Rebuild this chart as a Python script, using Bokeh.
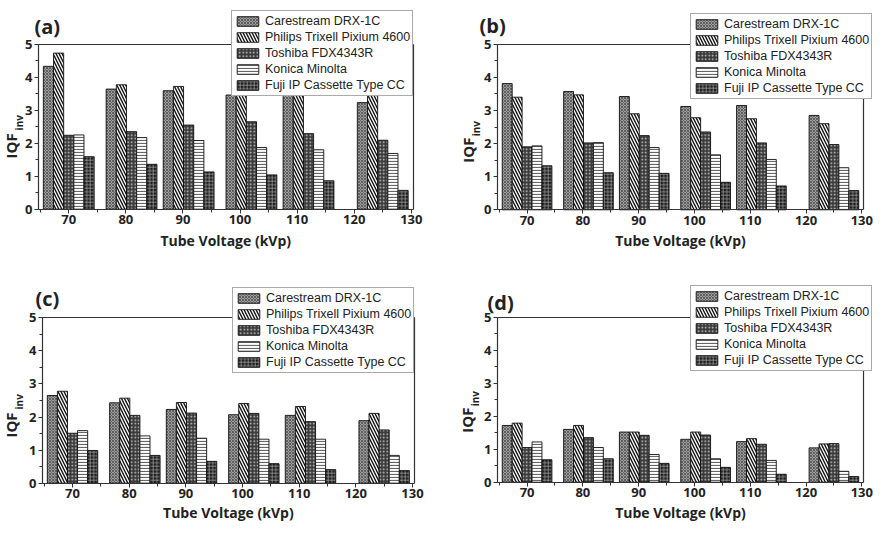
import math
from bokeh.plotting import figure
from bokeh.layouts import column, row
from bokeh.models import (Range1d, LinearAxis, SingleIntervalTicker, FixedTicker, Label,
                          Legend, LegendItem)
from bokeh.embed import file_html
from bokeh.resources import INLINE

# ---------------- data ----------------
kvp = [70, 81, 91, 102, 112, 125]          # tube voltage of each bar group (kVp)
detectors = ["Carestream DRX-1C", "Philips Trixell Pixium 4600", "Toshiba FDX4343R",
             "Konica Minolta", "Fuji IP Cassette Type CC"]
panel_tags = ["(a)", "(b)", "(c)", "(d)"]
x_title = "Tube Voltage (kVp)"

a_carestream = [4.33, 3.64, 3.59, 3.46, 3.45, 3.23]
a_philips    = [4.73, 3.77, 3.72, 3.69, 3.57, 3.64]
a_toshiba    = [2.24, 2.35, 2.55, 2.65, 2.29, 2.09]
a_konica     = [2.25, 2.17, 2.08, 1.87, 1.80, 1.69]
a_fuji       = [1.59, 1.36, 1.13, 1.04, 0.86, 0.57]

b_carestream = [3.81, 3.57, 3.42, 3.12, 3.15, 2.85]
b_philips    = [3.40, 3.47, 2.90, 2.78, 2.75, 2.60]
b_toshiba    = [1.90, 2.02, 2.24, 2.35, 2.02, 1.97]
b_konica     = [1.93, 2.03, 1.88, 1.66, 1.52, 1.27]
b_fuji       = [1.33, 1.12, 1.10, 0.83, 0.72, 0.58]

c_carestream = [2.65, 2.43, 2.23, 2.07, 2.05, 1.89]
c_philips    = [2.78, 2.57, 2.44, 2.41, 2.32, 2.11]
c_toshiba    = [1.51, 2.05, 2.12, 2.11, 1.86, 1.61]
c_konica     = [1.59, 1.43, 1.36, 1.33, 1.33, 0.84]
c_fuji       = [0.99, 0.84, 0.66, 0.59, 0.41, 0.38]

d_carestream = [1.72, 1.60, 1.52, 1.30, 1.23, 1.04]
d_philips    = [1.79, 1.72, 1.52, 1.52, 1.32, 1.16]
d_toshiba    = [1.05, 1.35, 1.42, 1.43, 1.15, 1.17]
d_konica     = [1.22, 1.05, 0.84, 0.71, 0.66, 0.33]
d_fuji       = [0.68, 0.71, 0.57, 0.45, 0.24, 0.17]

panels = [
    [a_carestream, a_philips, a_toshiba, a_konica, a_fuji],
    [b_carestream, b_philips, b_toshiba, b_konica, b_fuji],
    [c_carestream, c_philips, c_toshiba, c_konica, c_fuji],
    [d_carestream, d_philips, d_toshiba, d_konica, d_fuji],
]

# ---------------- styles ----------------
BAR_W = 1.78
styles = [
    dict(fill_color="#9c9c9c", hatch_pattern="x", hatch_color="#505050", hatch_scale=3, hatch_weight=0.8),
    dict(fill_color="white", hatch_pattern="\\", hatch_color="#111111", hatch_scale=6, hatch_weight=1.4),
    dict(fill_color="#3a3a3a", hatch_pattern=".", hatch_color="#cfcfcf", hatch_scale=3.5, hatch_weight=1.0),
    dict(fill_color="white", hatch_pattern="-", hatch_color="#666666", hatch_scale=3, hatch_weight=1.2),
    dict(fill_color="#1c1c1c", hatch_pattern="+", hatch_color="#9a9a9a", hatch_scale=3.5, hatch_weight=0.8),
]

AX = "#333333"
TXT = "#222222"
FONT = "Open Sans"
XA, XB = 64.7, 130.3      # axis extent in kVp
YMAX = 5
LEG_W, LEG_H = 184, 92    # legend placement size in px (box is anchored by its bottom-left)

# page geometry of each panel (pixels): figure box, axis positions, legend corner,
# and text placements (tag, y-title, x-title)
geom = [
    dict(fx0=8, fx1=445, fy0=8, fy1=258, ax=46, rx=420.5, y0=216.7, y5=51.7, lt=12, lr=423,
         tag_dx=-4, tag_y=5.55, iqf_dx=-28, iqf_y=1.92, inv_dx=-20, inv_y=2.62, xt_y=-0.95),
    dict(fx0=445, fx1=883, fy0=8, fy1=258, ax=505, rx=871, y0=217.3, y5=51.7, lt=15, lr=882,
         tag_dx=-18, tag_y=5.55, iqf_dx=-30, iqf_y=1.80, inv_dx=-22, inv_y=2.45, xt_y=-0.93),
    dict(fx0=8, fx1=445, fy0=258, fy1=530, ax=50, rx=421.7, y0=490.7, y5=325.3, lt=289, lr=424,
         tag_dx=-7, tag_y=5.57, iqf_dx=-32, iqf_y=1.76, inv_dx=-24, inv_y=2.46, xt_y=-0.89),
    dict(fx0=445, fx1=883, fy0=258, fy1=530, ax=505, rx=871, y0=489.7, y5=324.7, lt=287, lr=882,
         tag_dx=-10, tag_y=5.46, iqf_dx=-31, iqf_y=1.88, inv_dx=-23, inv_y=2.53, xt_y=-0.92),
]


def bare_axis(loc, bounds):
    return LinearAxis(fixed_location=loc, bounds=bounds, ticker=FixedTicker(ticks=[]),
                      axis_line_color=AX, axis_line_width=1.2,
                      major_tick_line_color=None, minor_tick_line_color=None,
                      major_label_text_font_size="0px")


def style_axis(a):
    a.major_label_text_font = FONT
    a.major_label_text_font_style = "bold"
    a.major_label_text_font_size = "13px"
    a.major_label_text_color = TXT
    a.major_label_standoff = 2
    a.major_tick_in = 0
    a.major_tick_out = 4
    a.minor_tick_in = 0
    a.minor_tick_out = 3
    a.axis_line_color = AX
    a.major_tick_line_color = AX
    a.minor_tick_line_color = AX
    a.axis_line_width = 1.2


def make_panel(idx):
    g = geom[idx]
    sx = (g["rx"] - g["ax"]) / (XB - XA)
    sy = (g["y0"] - g["y5"]) / YMAX
    fl, fr, ft, fb = g["fx0"], g["fx1"], g["fy0"], g["fy1"]
    x_start = XA - (g["ax"] - fl) / sx
    x_end = XA + (fr - g["ax"]) / sx
    y_start = -(fb - g["y0"]) / sy
    y_end = (g["y0"] - ft) / sy

    p = figure(frame_width=int(fr - fl), frame_height=int(fb - ft),
               min_border_left=0, min_border_bottom=0, min_border_top=0, min_border_right=0,
               x_range=Range1d(x_start, x_end), y_range=Range1d(y_start, y_end),
               output_backend="svg", toolbar_location=None,
               background_fill_color="white", border_fill_color="white")
    p.outline_line_color = None
    p.xgrid.visible = False
    p.ygrid.visible = False

    xa = p.xaxis[0]
    xa.fixed_location = 0
    xa.bounds = (XA, XB)
    xa.ticker = SingleIntervalTicker(interval=10, num_minor_ticks=2)
    style_axis(xa)

    ya = p.yaxis[0]
    ya.fixed_location = XA
    ya.bounds = (0, YMAX)
    ya.ticker = SingleIntervalTicker(interval=1, num_minor_ticks=2)
    style_axis(ya)

    p.add_layout(bare_axis(XB, (0, YMAX)), "right")
    p.add_layout(bare_axis(YMAX, (XA, XB)), "above")

    items = []
    for i, (vals, st) in enumerate(zip(panels[idx], styles)):
        off = (i - 2) * BAR_W
        xs = [k + off for k in kvp]
        r = p.vbar(x=xs, top=vals, bottom=0, width=BAR_W,
                   line_color="#111111", line_width=0.9, **st)
        items.append(LegendItem(label=detectors[i], renderers=[r]))

    leg_x = g["lr"] - LEG_W - fl
    leg_y = fb - g["lt"] - LEG_H
    leg = Legend(items=items, location=(leg_x, leg_y), margin=0, padding=2, spacing=0,
                 glyph_width=27, glyph_height=12, label_height=16, label_standoff=4,
                 label_text_font="Liberation Sans", label_text_font_size="12.5px",
                 label_text_color=TXT, border_line_color="#555555", border_line_width=1,
                 background_fill_color="white", background_fill_alpha=1.0)
    p.add_layout(leg)

    # panel tag
    p.add_layout(Label(x=XA, y=g["tag_y"], x_offset=g["tag_dx"], text=panel_tags[idx],
                       text_font=FONT, text_font_style="bold", text_font_size="20px",
                       text_color=TXT, text_baseline="middle", text_align="left"))
    # y title: IQF with subscript inv
    p.add_layout(Label(x=XA, y=g["iqf_y"], x_offset=g["iqf_dx"], text="IQF", angle=math.pi / 2,
                       text_font=FONT, text_font_style="bold", text_font_size="15px",
                       text_color=TXT, text_baseline="middle", text_align="center"))
    p.add_layout(Label(x=XA, y=g["inv_y"], x_offset=g["inv_dx"], text="inv", angle=math.pi / 2,
                       text_font=FONT, text_font_style="bold", text_font_size="10px",
                       text_color=TXT, text_baseline="middle", text_align="center"))
    # x title
    p.add_layout(Label(x=(XA + XB) / 2, y=g["xt_y"], text=x_title,
                       text_font=FONT, text_font_style="bold", text_font_size="14px",
                       text_color=TXT, text_baseline="middle", text_align="center"))
    return p


figs = [make_panel(i) for i in range(4)]
layout_obj = column(row(figs[0], figs[1]), row(figs[2], figs[3]))

open("out.html", "w").write(file_html(layout_obj, INLINE))
